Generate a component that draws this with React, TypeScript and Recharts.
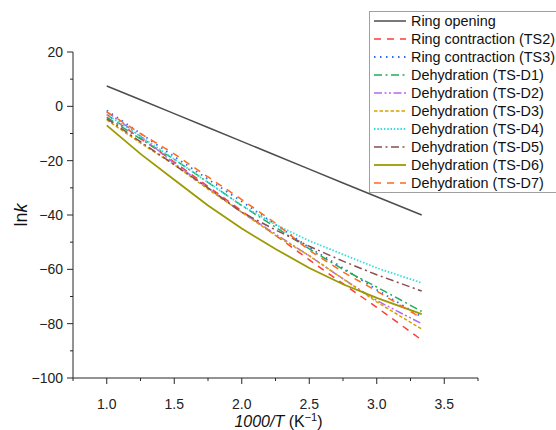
import React from 'react';
import { LineChart, Line, XAxis, YAxis } from 'recharts';

const xValues = [1.0, 1.25, 1.5, 1.75, 2.0, 2.25, 2.5, 2.75, 3.0, 3.333];

const ringOpening = [7.5, 2.4, -2.7, -7.8, -12.9, -18.0, -23.1, -28.2, -33.3, -40.0];
const ringContractionTS2 = [-3, -11.8, -20.5, -29.5, -38.5, -47.5, -56.5, -65.3, -74, -86];
const ringContractionTS3 = [-1.5, -10, -18.5, -26.8, -35, -43.5, -52, -59.5, -67.5, -77.5];
const dehydD1 = [-4, -12, -19.5, -28, -36.5, -44.5, -52.5, -60, -66.5, -75.5];
const dehydD2 = [-2, -11, -21, -30, -39, -47, -55, -63.5, -71.5, -80];
const dehydD3 = [-5, -13.5, -21.5, -30.5, -39, -47.5, -55, -63.5, -72, -82];
const dehydD4 = [-3, -11, -19.5, -28, -36.5, -43.5, -49.5, -54.5, -59.5, -65];
const dehydD5 = [-4.5, -13, -21.5, -30, -39, -45.5, -51.5, -57, -62, -68];
const dehydD6 = [-7, -17.5, -27, -36.5, -45, -52.5, -59.5, -65.5, -70.5, -76.5];
const dehydD7 = [-2, -10, -17.5, -26, -34.3, -43, -53, -61, -68, -78];

const xTicks = [0.75, 1.0, 1.25, 1.5, 1.75, 2.0, 2.25, 2.5, 2.75, 3.0, 3.25, 3.5, 3.75];
const yTicks = [-100, -90, -80, -70, -60, -50, -40, -30, -20, -10, 0, 10, 20];

const seriesNames = [
  'Ring opening',
  'Ring contraction (TS2)',
  'Ring contraction (TS3)',
  'Dehydration (TS-D1)',
  'Dehydration (TS-D2)',
  'Dehydration (TS-D3)',
  'Dehydration (TS-D4)',
  'Dehydration (TS-D5)',
  'Dehydration (TS-D6)',
  'Dehydration (TS-D7)',
];
const seriesValues = [
  ringOpening, ringContractionTS2, ringContractionTS3, dehydD1, dehydD2,
  dehydD3, dehydD4, dehydD5, dehydD6, dehydD7,
];

const seriesStyle = [
  { color: '#4d4d4d', dash: undefined, width: 1.5 },
  { color: '#ff3b3b', dash: '7 6', width: 1.5 },
  { color: '#2b6cf5', dash: '1.5 4.5', width: 1.8 },
  { color: '#1fae5a', dash: '8 3.5 2 3.5', width: 1.5 },
  { color: '#b469f0', dash: '8 2.5 2 2.5 2 2.5', width: 1.5 },
  { color: '#d7a200', dash: '3.5 2', width: 1.5 },
  { color: '#33dede', dash: '1.5 1.8', width: 1.8 },
  { color: '#8b4e4e', dash: '8 3.5 2 3.5', width: 1.5 },
  { color: '#9c9a00', dash: undefined, width: 1.8 },
  { color: '#ff6a1c', dash: '7 6', width: 1.5 },
];

const data = xValues.map((x, i) => {
  const row: Record<string, number> = { x };
  seriesValues.forEach((arr, s) => {
    row['s' + s] = arr[i];
  });
  return row;
});

const FONT = '"Liberation Sans", Arial, sans-serif';
const AXIS = '#262626';

const fmt = (v: number, digits: number) => v.toFixed(digits).replace('-', '\u2212');

const XTick = (props: any) => {
  const { x, y, payload } = props;
  const v = payload.value as number;
  const major = Math.abs(v * 2 - Math.round(v * 2)) < 1e-6;
  return (
    <g>
      <line x1={x} x2={x} y1={y} y2={y + (major ? 6 : 3)} stroke={AXIS} strokeWidth={1} />
      {major && (
        <text x={x} y={y + 21} dy="0.71em" textAnchor="middle" fontSize={14} fontFamily={FONT} fill="#222">
          {fmt(v, 1)}
        </text>
      )}
    </g>
  );
};

const YTick = (props: any) => {
  const { x, y, payload } = props;
  const v = payload.value as number;
  const major = v % 20 === 0;
  return (
    <g>
      <line x1={x} x2={x - (major ? 6 : 3)} y1={y} y2={y} stroke={AXIS} strokeWidth={1} />
      {major && (
        <text x={x - 10} y={y} dy="0.35em" textAnchor="end" fontSize={14} fontFamily={FONT} fill="#222">
          {fmt(v, 0)}
        </text>
      )}
    </g>
  );
};

const LegendBox = () => (
  <div
    style={{
      position: 'absolute',
      left: 369,
      top: 11,
      border: '1px solid #a0a0a0',
      background: '#fff',
      width: 200,
      boxSizing: 'border-box',
      fontFamily: FONT,
      fontSize: 14.4,
      color: '#111',
    }}
  >
    {seriesNames.map((name, i) => (
      <div key={name} style={{ display: 'flex', alignItems: 'center', height: 18, lineHeight: '18px', whiteSpace: 'nowrap' }}>
        <svg width={36} height={18} style={{ marginLeft: 3, flex: 'none' }}>
          <line
            x1={1}
            x2={33}
            y1={9}
            y2={9}
            stroke={seriesStyle[i].color}
            strokeWidth={seriesStyle[i].width}
            strokeDasharray={seriesStyle[i].dash}
          />
        </svg>
        <span style={{ marginLeft: 2 }}>{name}</span>
      </div>
    ))}
  </div>
);

const XTitle = (props: any) => {
  const vb = props.viewBox;
  const cx = vb.x + vb.width / 2 + 3;
  return (
    <text x={cx} y={427} textAnchor="middle" fontSize={16} fontFamily={FONT} fill="#111">
      <tspan fontStyle="italic">1000/T</tspan>
      <tspan> (K</tspan>
      <tspan dy={-6} fontSize={11}>{'\u22121'}</tspan>
      <tspan dy={6}>)</tspan>
    </text>
  );
};

const YTitle = (props: any) => {
  const vb = props.viewBox;
  const cy = vb.y + vb.height / 2;
  return (
    <text x={27} y={cy} textAnchor="middle" fontSize={18} fontFamily={FONT} fill="#111" transform={`rotate(-90, 27, ${cy})`}>
      <tspan>ln</tspan>
      <tspan fontStyle="italic">k</tspan>
    </text>
  );
};

export default function App() {
  return (
    <div style={{ position: 'absolute', left: 0, top: 0, width: 556, height: 430, overflow: 'hidden', background: '#fff' }}>
      <LineChart width={556} height={430} data={data} margin={{ top: 52, right: 78, left: 0, bottom: 0 }}>
        <XAxis
          dataKey="x"
          type="number"
          domain={[0.75, 3.75]}
          ticks={xTicks}
          interval={0}
          height={52}
          tickSize={0}
          tickMargin={0}
          tickLine={false}
          tick={<XTick />}
          axisLine={{ stroke: AXIS, strokeWidth: 1 }}
          label={{ content: <XTitle /> }}
        />
        <YAxis
          type="number"
          domain={[-100, 20]}
          ticks={yTicks}
          interval={0}
          width={73}
          tickSize={0}
          tickMargin={0}
          tickLine={false}
          tick={<YTick />}
          axisLine={{ stroke: AXIS, strokeWidth: 1 }}
          label={{ content: <YTitle /> }}
        />
        {seriesNames.map((name, i) => (
          <Line
            key={name}
            dataKey={'s' + i}
            name={name}
            type="linear"
            stroke={seriesStyle[i].color}
            strokeWidth={seriesStyle[i].width}
            strokeDasharray={seriesStyle[i].dash}
            dot={false}
            activeDot={false}
            isAnimationActive={false}
          />
        ))}
      </LineChart>
      <LegendBox />
    </div>
  );
}
